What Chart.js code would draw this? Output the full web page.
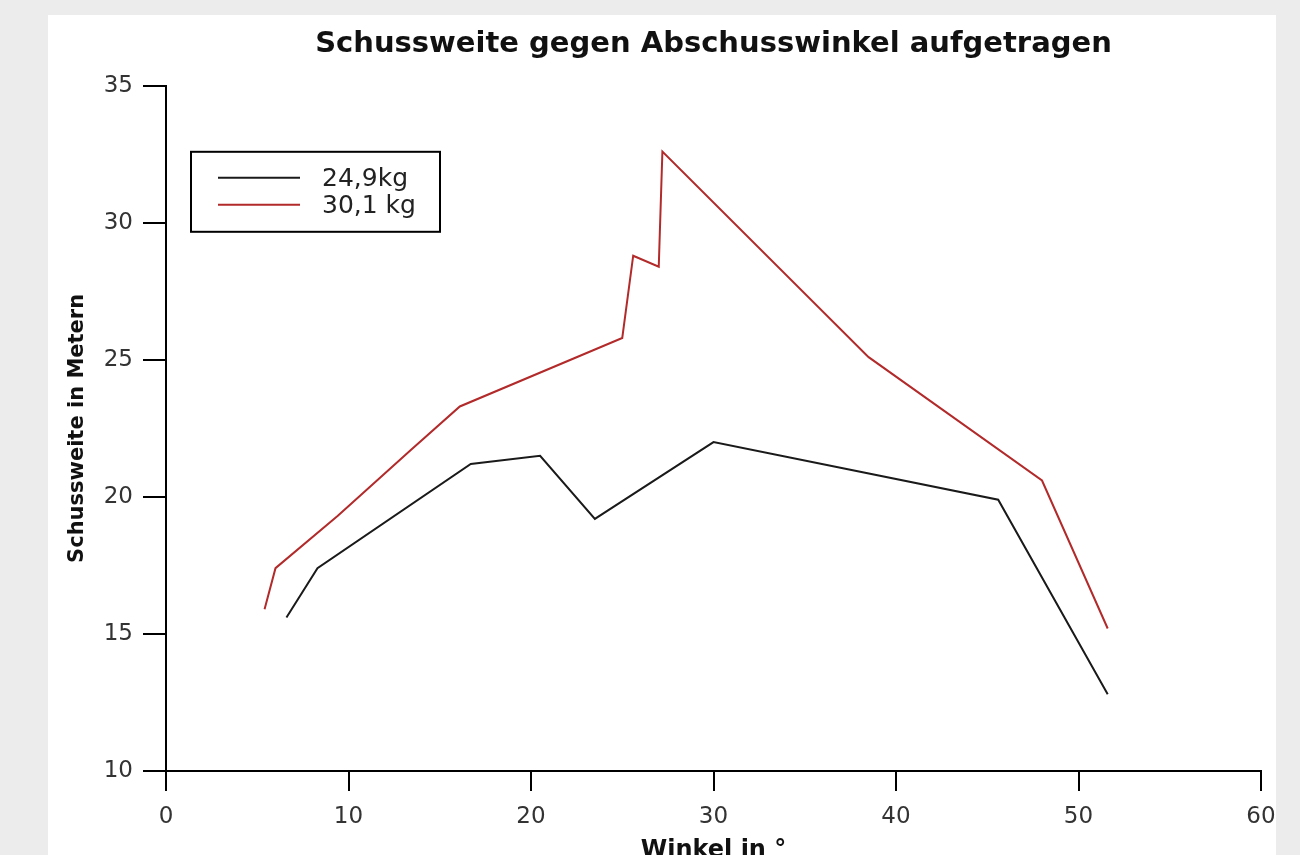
<!DOCTYPE html>
<html>
<head>
<meta charset="utf-8">
<script src="https://cdn.jsdelivr.net/npm/chart.js@4"></script>
<style>
  html, body { margin: 0; padding: 0; background: #ececec; overflow: hidden; }
  canvas { display: block; }
</style>
</head>
<body>
<canvas id="chart" width="1300" height="880"></canvas>
<script>
// Schussweite gegen Abschusswinkel - two masses

const angles249 = [6.6, 8.3, 16.7, 20.5, 23.5, 30.0, 45.6, 51.6];
const range249 = [15.6, 17.4, 21.2, 21.5, 19.2, 22.0, 19.9, 12.8];

const angles301 = [5.4, 6.0, 9.4, 13.4, 16.1, 25.0, 25.6, 27.0, 27.2, 38.5, 48.0, 51.6];
const range301 = [15.9, 17.4, 19.3, 21.7, 23.3, 25.8, 28.8, 28.4, 32.6, 25.1, 20.6, 15.2];

const seriesLabels = ["24,9kg", "30,1 kg"];
const seriesColors = ["#1a1a1a", "#b22a2a"];

const xTicks = [0, 10, 20, 30, 40, 50, 60];
const yTicks = [10, 15, 20, 25, 30, 35];

const toPoints = (xs, ys) => xs.map((x, i) => ({ x: x, y: ys[i] }));

const panel = {
  id: "panel",
  beforeDraw(chart) {
    const ctx = chart.ctx;
    ctx.save();
    ctx.fillStyle = "#ececec";
    ctx.fillRect(0, 0, chart.width, chart.height);
    ctx.fillStyle = "#ffffff";
    ctx.fillRect(48, 15, 1228, chart.height);
    ctx.restore();
  }
};

// boxed legend inside the plot
const legendBox = {
  id: "legendBox",
  afterDraw(chart) {
    const { ctx, chartArea } = chart;
    const x = chartArea.left + 25, y = chartArea.top + 66;
    ctx.save();
    ctx.strokeStyle = "#000";
    ctx.lineWidth = 2;
    ctx.strokeRect(x, y, 249, 80);
    chart.data.datasets.forEach((ds, i) => {
      const ly = y + 26 + i * 27;
      ctx.strokeStyle = ds.borderColor;
      ctx.lineWidth = 2;
      ctx.beginPath();
      ctx.moveTo(x + 27, ly);
      ctx.lineTo(x + 109, ly);
      ctx.stroke();
      ctx.fillStyle = "#222";
      ctx.font = '25px "DejaVu Sans"';
      ctx.textBaseline = "middle";
      ctx.fillText(ds.label, x + 131, ly + 2);
    });
    ctx.restore();
  }
};

new Chart(document.getElementById("chart"), {
  type: "scatter",
  data: {
    datasets: [
      {
        label: seriesLabels[0],
        data: toPoints(angles249, range249),
        borderColor: seriesColors[0],
        borderWidth: 2,
        showLine: true,
        pointRadius: 0,
        tension: 0
      },
      {
        label: seriesLabels[1],
        data: toPoints(angles301, range301),
        borderColor: seriesColors[1],
        borderWidth: 2,
        showLine: true,
        pointRadius: 0,
        tension: 0
      }
    ]
  },
  options: {
    responsive: false,
    animation: false,
    layout: { padding: { left: 0, right: 39, top: 0, bottom: 0 } },
    plugins: {
      legend: { display: false },
      tooltip: { enabled: false },
      title: {
        display: true,
        fullSize: false,
        text: "Schussweite gegen Abschusswinkel aufgetragen",
        color: "#111",
        font: { family: "DejaVu Sans", size: 29, weight: "bold" },
        padding: { top: 27, bottom: 24 }
      }
    },
    scales: {
      x: {
        type: "linear",
        min: 0,
        max: 60,
        afterBuildTicks: (s) => { s.ticks = xTicks.map((v) => ({ value: v })); },
        afterFit: (s) => { s.height = 109; },
        border: { display: true, color: "#000", width: 2 },
        grid: { drawOnChartArea: false, color: "#000", lineWidth: 2, tickLength: 20 },
        ticks: { color: "#333", padding: 12, maxRotation: 0, font: { family: "DejaVu Sans", size: 23 } },
        title: {
          display: true,
          text: "Winkel in °",
          color: "#111",
          font: { family: "DejaVu Sans", size: 24, weight: "bold" },
          padding: { top: 0, bottom: 15 }
        }
      },
      y: {
        type: "linear",
        min: 10,
        max: 35,
        afterBuildTicks: (s) => { s.ticks = yTicks.map((v) => ({ value: v })); },
        afterFit: (s) => { s.width = 166; },
        border: { display: true, color: "#000", width: 2 },
        grid: { drawOnChartArea: false, color: "#000", lineWidth: 2, tickLength: 23 },
        ticks: { color: "#333", padding: 10, font: { family: "DejaVu Sans", size: 23 } },
        title: {
          display: true,
          text: "Schussweite in Metern",
          color: "#111",
          font: { family: "DejaVu Sans", size: 21, weight: "bold" },
          padding: { top: 65, bottom: 0 }
        }
      }
    }
  },
  plugins: [panel, legendBox]
});
</script>
</body>
</html>
